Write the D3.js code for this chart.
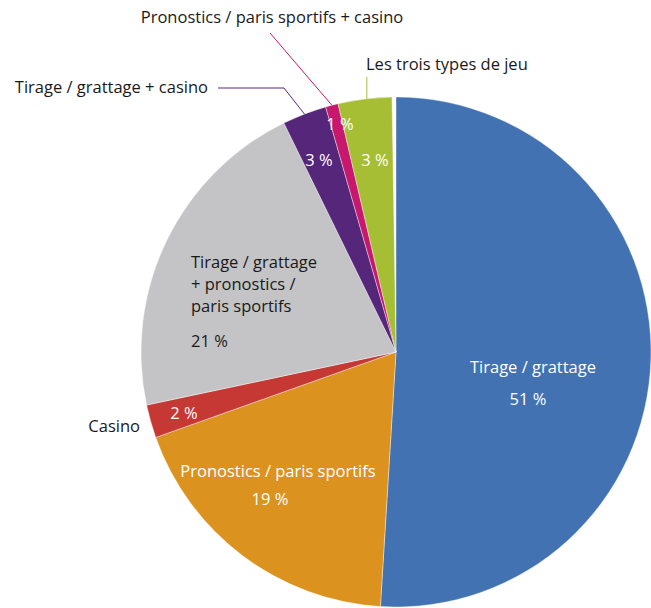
<!DOCTYPE html>
<html>
<head>
<meta charset="utf-8">
<script src="https://cdn.jsdelivr.net/npm/d3@7"></script>
<style>
  body { margin: 0; background: #fff; }
  text { font-family: "Open Sans", sans-serif; font-size: 16.5px; }
</style>
</head>
<body>
<svg id="chart" width="651" height="608"></svg>
<script>
// categories, in drawing order (clockwise from 12 o'clock)
var categories = ["Tirage / grattage", "Pronostics / paris sportifs", "Casino",
  "Tirage / grattage + pronostics / paris sportifs", "Tirage / grattage + casino",
  "Pronostics / paris sportifs + casino", "Les trois types de jeu"]
var values = [51.0, 18.6, 2.1, 21.1, 2.8, 0.8, 3.4]
var pctLabels = ["51 %", "19 %", "2 %", "21 %", "3 %", "1 %", "3 %"]
var colors = ["#4272b2", "#db921f", "#c63834", "#c4c4c6", "#55267a", "#c8186e", "#a6be33"]

var svg = d3.select("#chart")
var cx = 396, cy = 352, r = 255

var pie = d3.pie().sort(null).value(d => d).startAngle(0).endAngle(2 * Math.PI * 0.9975)
var arcs = pie(values)
var arc = d3.arc().innerRadius(0).outerRadius(r)
var edge = d3.arc().innerRadius(r).outerRadius(r)

var g = svg.append("g").attr("transform", "translate(" + cx + "," + cy + ")")

g.selectAll("path.slice")
  .data(arcs)
  .enter()
  .append("path")
  .attr("class", "slice")
  .attr("d", arc)
  .attr("fill", (d, i) => colors[i])
  .attr("stroke", "#fff")
  .attr("stroke-width", 0.4)

// labels (offsets relative to the centre)
function txt(x, y, s, fill, anchor) {
  g.append("text").attr("x", x).attr("y", y).attr("fill", fill)
    .attr("text-anchor", anchor || "start").text(s)
}

txt(137, 21, categories[0], "#fff", "middle")
txt(132, 53, pctLabels[0], "#fff", "middle")

txt(-118, 125, categories[1], "#fff", "middle")
txt(-126, 153, pctLabels[1], "#fff", "middle")

txt(-212, 67, pctLabels[2], "#fff", "middle")
txt(-256, 80, categories[2], "#1a1a1a", "end")

txt(-205, -84, "Tirage / grattage", "#1a1a1a")
txt(-205, -62, "+ pronostics /", "#1a1a1a")
txt(-205, -40, "paris sportifs", "#1a1a1a")
txt(-205, -5, pctLabels[3], "#1a1a1a")

txt(-77, -186, pctLabels[4], "#fff", "middle")
txt(-56, -222, pctLabels[5], "#fff", "middle")
txt(-21, -186, pctLabels[6], "#fff", "middle")

// leader lines to the small slices
var pPurple = edge.centroid(arcs[4]), pPink = edge.centroid(arcs[5]), pGreen = edge.centroid(arcs[6])

g.append("polyline")
  .attr("points", [[-178, -264], [-112, -264], pPurple].join(" "))
  .attr("fill", "none").attr("stroke", colors[4]).attr("stroke-width", 1)
txt(-188, -259, categories[4], "#1a1a1a", "end")

g.append("line")
  .attr("x1", -126).attr("y1", -319).attr("x2", pPink[0]).attr("y2", pPink[1])
  .attr("stroke", colors[5]).attr("stroke-width", 1)
txt(-124, -329, categories[5], "#1a1a1a", "middle")

g.append("line")
  .attr("x1", pGreen[0] + 2).attr("y1", -275).attr("x2", pGreen[0] + 2).attr("y2", pGreen[1])
  .attr("stroke", colors[6]).attr("stroke-width", 1)
txt(-30, -282, categories[6], "#1a1a1a")
</script>
</body>
</html>
